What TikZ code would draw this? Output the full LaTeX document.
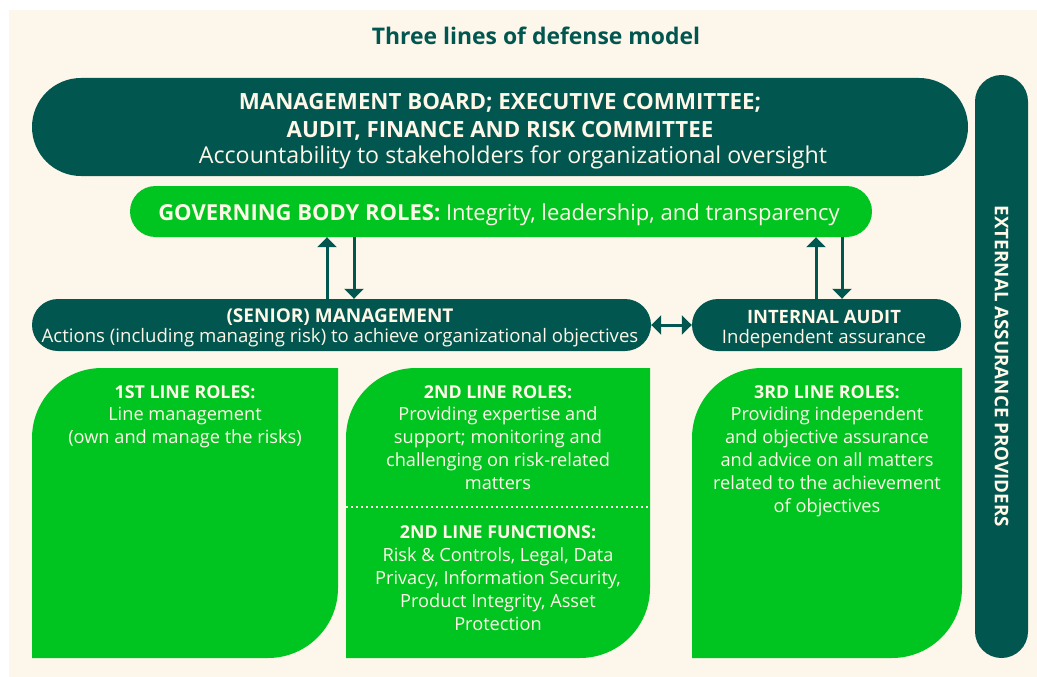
\documentclass[tikz,border=0pt]{standalone}
\usepackage{fontspec}
\setmainfont{Open Sans}
\usetikzlibrary{arrows.meta}
\definecolor{tealD}{HTML}{015650}
\definecolor{greenB}{HTML}{00C520}
\definecolor{creamBg}{HTML}{FDF6EA}
\definecolor{creamTx}{HTML}{FFF7E8}
\begin{document}
\begin{tikzpicture}[x=1pt,y=-1pt,
  pill/.style={fill=tealD, rounded corners=#1, inner sep=0pt, draw=none},
  gpill/.style={fill=greenB, rounded corners=#1, inner sep=0pt, draw=none},
  txt/.style={text=creamTx, inner sep=0pt, anchor=base},
  hd/.style={txt, font=\fontsize{#1}{#1}\selectfont\bfseries},
  rg/.style={txt, font=\fontsize{#1}{#1}\selectfont},
  arr/.style={draw=tealD, line width=3pt, -{Triangle[width=19pt,length=10pt]}},
  darr/.style={draw=tealD, line width=3pt, {Triangle[width=19pt,length=10pt]}-{Triangle[width=19pt,length=10pt]}},
  lbox/.style={fill=greenB}
]
\useasboundingbox (0,0) rectangle (1037,677);
\fill[white] (0,0) rectangle (1037,677);
\fill[creamBg] (9,10) rectangle (1037,677);

% title
\node[anchor=base, inner sep=0pt, text=tealD, font=\fontsize{22.9}{22.9}\selectfont\bfseries] (title) at (536,45) {Three lines of defense model};

% board
\node[pill=49pt, minimum width=936pt, minimum height=98pt] (board) at (500,127) {};
\node[hd=22.3] (board1) at (500,110) {MANAGEMENT BOARD; EXECUTIVE COMMITTEE;};
\node[hd=22.3] (board2) at (500,137) {AUDIT, FINANCE AND RISK COMMITTEE};
\node[rg=23.2] (board3) at (513,163) {Accountability to stakeholders for organizational oversight};

% governing body
\node[gpill=25.5pt, minimum width=742pt, minimum height=51pt] (gb) at (501,211.5) {};
\node[txt, font=\fontsize{22}{22}\selectfont] (gbt) at (499,220) {\textbf{GOVERNING BODY ROLES:} Integrity, leadership, and transparency};

% senior management
\node[pill=26pt, minimum width=619pt, minimum height=52pt] (sm) at (341.5,325) {};
\node[hd=19] (sm1) at (340,322) {(SENIOR) MANAGEMENT};
\node[rg=18.6] (sm2) at (340,342) {Actions (including managing risk) to achieve organizational objectives};

% internal audit
\node[pill=26pt, minimum width=269pt, minimum height=52pt] (ia) at (826.5,325) {};
\node[hd=18.4] (ia1) at (824,323) {INTERNAL AUDIT};
\node[rg=18.6] (ia2) at (824,343) {Independent assurance};

% external assurance providers
\node[pill=26.5pt, minimum width=53pt, minimum height=583pt] (ext) at (1001.5,366.5) {};
\node[text=creamTx, inner sep=0pt, rotate=-90, font=\fontsize{18.8}{18.8}\selectfont\bfseries] (extt) at (ext.center) {EXTERNAL ASSURANCE PROVIDERS};

% arrows
\coordinate (a1) at (327,0);
\coordinate (a2) at (354,0);
\coordinate (a3) at (816,0);
\coordinate (a4) at (842,0);
\draw[arr] (sm.north -| a1) -- (gb.south -| a1);
\draw[arr] (gb.south -| a2) -- (sm.north -| a2);
\draw[arr] (ia.north -| a3) -- (gb.south -| a3);
\draw[arr] (gb.south -| a4) -- (ia.north -| a4);
\draw[darr] (sm.east) -- (ia.west);

% line role boxes
\fill[lbox] (32,658) -- (32,438) arc[start angle=180,end angle=90,radius=70pt] -- (338,368) -- (338,588) arc[start angle=0,end angle=-90,radius=70pt] -- cycle;
\fill[lbox] (346,658) -- (346,438) arc[start angle=180,end angle=90,radius=70pt] -- (650,368) -- (650,588) arc[start angle=0,end angle=-90,radius=70pt] -- cycle;
\fill[lbox] (692,658) -- (692,438) arc[start angle=180,end angle=90,radius=70pt] -- (962,368) -- (962,588) arc[start angle=0,end angle=-90,radius=70pt] -- cycle;
\draw[creamTx, line width=2pt, dash pattern=on 2pt off 3pt] (346,507) -- (650,507);

% 1st line text
\node[hd=17.8] (l1h) at (185,398) {1ST LINE ROLES:};
\foreach \t [count=\i] in {Line management, (own and manage the risks)}
  \node[rg=18.2] (l1-\i) at (185,{398+22.8*\i}) {\t};

% 2nd line text
\node[hd=17.8] (l2h) at (498,398) {2ND LINE ROLES:};
\foreach \t [count=\i] in {Providing expertise and, support; monitoring and, challenging on risk-related, matters}
  \node[rg=18.2] (l2-\i) at (498,{398+22.8*\i}) {\t};
\node[hd=17.8] (f2h) at (498,538) {2ND LINE FUNCTIONS:};
\foreach \t [count=\i] in {{Risk \& Controls, Legal, Data}, {Privacy, Information Security,}, {Product Integrity, Asset}, Protection}
  \node[rg=18.2] (f2-\i) at (498,{538+23*\i}) {\t};

% 3rd line text
\node[hd=17.8] (l3h) at (827,398) {3RD LINE ROLES:};
\foreach \t [count=\i] in {Providing independent, and objective assurance, and advice on all matters, related to the achievement, of objectives}
  \node[rg=18.2] (l3-\i) at (827,{398+22.8*\i}) {\t};
\end{tikzpicture}
\end{document}
